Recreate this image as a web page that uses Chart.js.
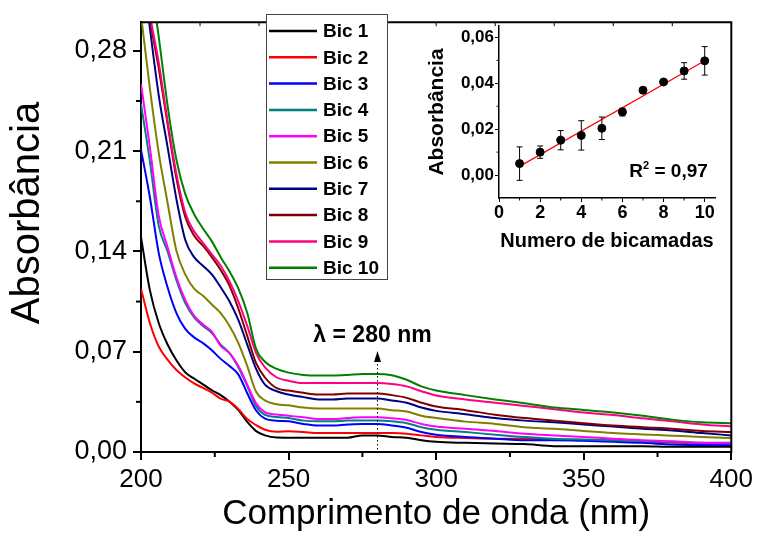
<!DOCTYPE html>
<html>
<head>
<meta charset="utf-8">
<script src="https://cdn.jsdelivr.net/npm/chart.js@4.4.1/dist/chart.umd.min.js"></script>
<style>
    html, body { margin: 0; padding: 0; background: #fff; }
    #wrap { position: relative; width: 757px; height: 538px; }
    #mainChart { position: absolute; left: 0; top: 0; }
    #insetChart { position: absolute; left: 420px; top: 14px; }
</style>
</head>
<body>
<div id="wrap">
    <canvas id="mainChart" width="757" height="538"></canvas>
    <canvas id="insetChart" width="320" height="250"></canvas>
</div>
<script>
// ========== DATA: UV-Vis spectra ==========
const wavelengths = [200, 203, 206, 209, 212, 215, 218, 221, 224, 227, 230, 233, 236, 239, 242, 246, 250,
    255, 260, 265, 270, 275, 280, 285, 290, 295, 300,
    310, 320, 330, 340, 350, 360, 370, 380, 390, 400];

const bic1 = [0.150, 0.113, 0.090, 0.075, 0.064, 0.0556, 0.0513, 0.0472, 0.0431, 0.0397, 0.0351, 0.0292, 0.021, 0.0146, 0.0116, 0.0101, 0.0100,
    0.0100, 0.0100, 0.0100, 0.0100, 0.0116, 0.0116, 0.0105, 0.0100, 0.0082, 0.0071,
    0.0064, 0.0059, 0.0055, 0.0041, 0.0041, 0.0041, 0.0041, 0.0036, 0.0036, 0.0036];
const bic2 = [0.114, 0.090, 0.0736, 0.0645, 0.0572, 0.052, 0.0479, 0.0447, 0.0415, 0.0372, 0.0351, 0.0299, 0.023, 0.0187, 0.0155, 0.0141, 0.0145,
    0.0139, 0.0132, 0.0132, 0.0132, 0.0132, 0.0132, 0.0132, 0.0128, 0.0116, 0.0105,
    0.0098, 0.0093, 0.0093, 0.0087, 0.0082, 0.0078, 0.0071, 0.0066, 0.0059, 0.0055];
const bic3 = [0.211, 0.178, 0.139, 0.115, 0.097, 0.086, 0.080, 0.076, 0.071, 0.065, 0.060, 0.054, 0.041, 0.029, 0.0233, 0.0218, 0.0214,
    0.0196, 0.0185, 0.0185, 0.0192, 0.0196, 0.0196, 0.0185, 0.0169, 0.0139, 0.0121,
    0.0105, 0.0093, 0.0082, 0.0082, 0.0078, 0.0071, 0.0064, 0.0052, 0.0048, 0.0048];
const bic4 = [0.243, 0.203, 0.158, 0.140, 0.120, 0.104, 0.094, 0.088, 0.083, 0.075, 0.069, 0.059, 0.046, 0.032, 0.026, 0.0245, 0.0237,
    0.0219, 0.0214, 0.0214, 0.0219, 0.0219, 0.0219, 0.0214, 0.0201, 0.0173, 0.0155,
    0.0139, 0.0121, 0.0105, 0.0093, 0.0087, 0.0082, 0.0075, 0.0071, 0.0064, 0.0064];
const bic5 = [0.257, 0.213, 0.165, 0.143, 0.122, 0.106, 0.095, 0.089, 0.084, 0.074, 0.069, 0.060, 0.047, 0.034, 0.0278, 0.0262, 0.0253,
    0.0242, 0.0230, 0.0230, 0.0237, 0.0242, 0.0242, 0.0235, 0.0223, 0.0196, 0.0178,
    0.0162, 0.0146, 0.0128, 0.0116, 0.0105, 0.0093, 0.0082, 0.0075, 0.0064, 0.0059];
const bic6 = [0.305, 0.254, 0.209, 0.174, 0.1404, 0.124, 0.114, 0.109, 0.103, 0.097, 0.088, 0.076, 0.060, 0.042, 0.036, 0.0333, 0.0326,
    0.0310, 0.0303, 0.0303, 0.0303, 0.0303, 0.0303, 0.0292, 0.0283, 0.0253, 0.0237,
    0.0212, 0.0196, 0.0173, 0.0162, 0.0146, 0.0132, 0.0123, 0.0114, 0.0105, 0.0098];
const bic7 = [0.345, 0.296, 0.249, 0.213, 0.1765, 0.148, 0.136, 0.130, 0.124, 0.115, 0.105, 0.092, 0.075, 0.058, 0.047, 0.0424, 0.0401,
    0.0383, 0.0367, 0.0367, 0.0374, 0.0374, 0.0374, 0.0360, 0.0344, 0.0310, 0.0287,
    0.0264, 0.0237, 0.0219, 0.0207, 0.0192, 0.0178, 0.0162, 0.0150, 0.0132, 0.0116];
const bic8 = [0.350, 0.303, 0.268, 0.229, 0.191, 0.164, 0.151, 0.144, 0.136, 0.127, 0.116, 0.100, 0.081, 0.062, 0.052, 0.0445, 0.0429,
    0.0413, 0.0401, 0.0401, 0.0408, 0.0408, 0.0408, 0.0397, 0.0378, 0.0344, 0.0317,
    0.0292, 0.0260, 0.0237, 0.0219, 0.0201, 0.0185, 0.0173, 0.0162, 0.0146, 0.0139];
const bic9 = [0.355, 0.306, 0.272, 0.231, 0.194, 0.167, 0.154, 0.146, 0.138, 0.130, 0.119, 0.105, 0.088, 0.069, 0.059, 0.052, 0.0497,
    0.0481, 0.0481, 0.0481, 0.0481, 0.0481, 0.0481, 0.0474, 0.0458, 0.0424, 0.0394,
    0.0367, 0.0344, 0.0321, 0.0299, 0.0276, 0.0258, 0.0235, 0.0214, 0.0192, 0.0178];
const bic10 = [0.400, 0.335, 0.290, 0.242, 0.204, 0.180, 0.166, 0.156, 0.147, 0.136, 0.126, 0.114, 0.097, 0.072, 0.063, 0.058, 0.0554,
    0.0538, 0.0534, 0.0534, 0.0538, 0.0545, 0.0545, 0.0536, 0.0504, 0.0458, 0.0429,
    0.0397, 0.0367, 0.0340, 0.0310, 0.0294, 0.0276, 0.0253, 0.0226, 0.0207, 0.0201];

const spectra = [bic1, bic2, bic3, bic4, bic5, bic6, bic7, bic8, bic9, bic10];
const seriesLabels = ['Bic 1', 'Bic 2', 'Bic 3', 'Bic 4', 'Bic 5', 'Bic 6', 'Bic 7', 'Bic 8', 'Bic 9', 'Bic 10'];
const seriesColors = ['#000000', '#ff0000', '#0000ff', '#008080', '#ff00ff', '#808000', '#000080', '#800000', '#ff0080', '#008000'];

const xMinorTicks = [225, 275, 325, 375];
const yMinorTicks = [0.035, 0.105, 0.175, 0.245];
const xTopTicks = [220, 240, 260, 280, 300, 320, 340, 360, 380];
const markerWavelength = 280;
const markerTip = 0.0705;

// ========== DATA: absorbance at 280 nm vs bilayers ==========
const bilayers = [1, 2, 3, 4, 5, 6, 7, 8, 9, 10];
const abs280 = [0.0050, 0.0100, 0.0152, 0.0173, 0.0204, 0.0275, 0.0370, 0.0406, 0.0454, 0.0498];
const abs280Err = [0.0073, 0.0027, 0.0042, 0.0064, 0.0049, 0.0017, 0, 0, 0.0036, 0.0062];
const insetXMinor = [1, 3, 5, 7, 9];
const insetYMinor = [0.01, 0.03, 0.05];

// ========== HELPERS ==========
const FONT = 'Arial, "Liberation Sans", sans-serif';
Chart.defaults.font.family = FONT;
Chart.defaults.color = '#000';

const fmtComma = (v) => v.toFixed(2).replace('.', ',');

// least squares line through the inset points
const linearFit = (xs, ys) => {
    const n = xs.length;
    const mx = xs.reduce((a, b) => a + b, 0) / n;
    const my = ys.reduce((a, b) => a + b, 0) / n;
    let sxy = 0, sxx = 0;
    xs.forEach((x, i) => { sxy += (x - mx) * (ys[i] - my); sxx += (x - mx) ** 2; });
    const slope = sxy / sxx;
    return { slope, intercept: my - slope * mx };
};

// ========== PLUGINS ==========
const minorTicks = {
    id: 'minorTicks',
    afterDraw(chart, args, o) {
        const { ctx, chartArea: a } = chart;
        ctx.save();
        ctx.strokeStyle = '#000';
        ctx.lineWidth = o.width;
        Object.entries(o.values).forEach(([id, values]) => {
            const sc = chart.scales[id];
            values.forEach(v => {
                const p = sc.getPixelForValue(v);
                ctx.beginPath();
                if (sc.isHorizontal()) {
                    ctx.moveTo(p, a.bottom);
                    ctx.lineTo(p, a.bottom + o.length);
                } else {
                    ctx.moveTo(a.left, p);
                    ctx.lineTo(a.left - o.length, p);
                }
                ctx.stroke();
            });
        });
        ctx.restore();
    }
};

// closes the box on top and right, with small inward ticks on top
const frame = {
    id: 'frame',
    afterDraw(chart, args, o) {
        const { ctx, chartArea: a, scales } = chart;
        ctx.save();
        ctx.strokeStyle = '#000';
        ctx.lineWidth = 2;
        ctx.beginPath();
        ctx.moveTo(a.left - 1, a.top);
        ctx.lineTo(a.right, a.top);
        ctx.lineTo(a.right, a.bottom + 1);
        ctx.stroke();
        ctx.lineWidth = 1;
        o.topTicks.forEach(v => {
            const p = scales.x.getPixelForValue(v);
            ctx.beginPath();
            ctx.moveTo(p, a.top);
            ctx.lineTo(p, a.top + 4);
            ctx.stroke();
        });
        ctx.restore();
    }
};

// vertical axis title, sits a little above the middle of the axis
const yTitle = {
    id: 'yTitle',
    afterDraw(chart, args, o) {
        const { ctx } = chart;
        ctx.save();
        ctx.translate(o.x, o.y);
        ctx.rotate(-Math.PI / 2);
        ctx.font = o.size + 'px ' + FONT;
        ctx.fillStyle = '#000';
        ctx.textAlign = 'center';
        ctx.textBaseline = 'middle';
        ctx.fillText(o.text, 0, 0);
        ctx.restore();
    }
};

const marker = {
    id: 'marker',
    afterDatasetsDraw(chart, args, o) {
        const { ctx, scales: { x, y } } = chart;
        const px = Math.round(x.getPixelForValue(o.value)) + 0.5;
        const tip = y.getPixelForValue(o.tip);
        ctx.save();
        ctx.strokeStyle = '#000';
        ctx.lineWidth = 1;
        ctx.setLineDash([1.5, 2.5]);
        ctx.beginPath();
        ctx.moveTo(px, tip + 9);
        ctx.lineTo(px, y.getPixelForValue(0));
        ctx.stroke();
        ctx.setLineDash([]);
        ctx.fillStyle = '#000';
        ctx.beginPath();
        ctx.moveTo(px, tip);
        ctx.lineTo(px - 3.5, tip + 11);
        ctx.lineTo(px + 3.5, tip + 11);
        ctx.closePath();
        ctx.fill();
        ctx.font = 'bold 23px ' + FONT;
        ctx.textAlign = 'center';
        ctx.textBaseline = 'middle';
        ctx.fillText(o.text, px - 5, tip - 15);
        ctx.restore();
    }
};

const legendBox = {
    id: 'legendBox',
    afterDraw(chart, args, o) {
        const { ctx } = chart;
        ctx.save();
        ctx.fillStyle = '#fff';
        ctx.fillRect(o.left, o.top, o.width, o.height);
        ctx.strokeStyle = '#444';
        ctx.lineWidth = 1;
        ctx.strokeRect(o.left + 0.5, o.top + 0.5, o.width, o.height);
        ctx.font = 'bold 19px ' + FONT;
        ctx.textBaseline = 'middle';
        chart.data.datasets.forEach((ds, i) => {
            const yy = o.top + o.firstRow + i * o.rowGap;
            ctx.strokeStyle = ds.borderColor;
            ctx.lineWidth = 2.5;
            ctx.beginPath();
            ctx.moveTo(o.left + 3, yy);
            ctx.lineTo(o.left + 51, yy);
            ctx.stroke();
            ctx.fillStyle = '#000';
            ctx.fillText(ds.label, o.left + 57, yy + 1);
        });
        ctx.restore();
    }
};

const errorBars = {
    id: 'errorBars',
    afterDatasetsDraw(chart, args, o) {
        const { ctx, scales: { x, y } } = chart;
        ctx.save();
        ctx.strokeStyle = '#000';
        ctx.lineWidth = 1;
        bilayers.forEach((n, i) => {
            if (!abs280Err[i]) return;
            const px = x.getPixelForValue(n);
            const top = y.getPixelForValue(abs280[i] + abs280Err[i]);
            const bot = y.getPixelForValue(abs280[i] - abs280Err[i]);
            ctx.beginPath();
            ctx.moveTo(px, top); ctx.lineTo(px, bot);
            ctx.moveTo(px - 3, top); ctx.lineTo(px + 3, top);
            ctx.moveTo(px - 3, bot); ctx.lineTo(px + 3, bot);
            ctx.stroke();
        });
        ctx.restore();
    }
};

const r2Label = {
    id: 'r2Label',
    afterDraw(chart, args, o) {
        const { ctx, scales: { x, y } } = chart;
        const right = x.getPixelForValue(o.x);
        const base = y.getPixelForValue(o.y);
        ctx.save();
        ctx.fillStyle = '#000';
        ctx.textBaseline = 'alphabetic';
        ctx.font = 'bold 19px ' + FONT;
        const tail = ' = 0,97';
        const wTail = ctx.measureText(tail).width;
        const wR = ctx.measureText('R').width;
        ctx.font = 'bold 11px ' + FONT;
        const w2 = ctx.measureText('2').width;
        const left = right - wTail - w2 - wR;
        ctx.font = 'bold 19px ' + FONT;
        ctx.fillText('R', left, base);
        ctx.fillText(tail, left + wR + w2, base);
        ctx.font = 'bold 11px ' + FONT;
        ctx.fillText('2', left + wR, base - 8);
        ctx.restore();
    }
};

// ========== MAIN CHART ==========
new Chart(document.getElementById('mainChart'), {
    type: 'line',
    data: {
        datasets: spectra.map((s, i) => ({
            label: seriesLabels[i],
            data: wavelengths.map((w, j) => ({ x: w, y: s[j] })),
            borderColor: seriesColors[i],
            borderWidth: 2,
            pointRadius: 0,
            cubicInterpolationMode: 'monotone',
            fill: false,
            order: 10 - i
        }))
    },
    options: {
        responsive: false,
        animation: false,
        layout: { padding: { top: 14, right: 20, left: 0, bottom: 0 } },
        plugins: {
            legend: { display: false },
            tooltip: { enabled: false },
            minorTicks: { values: { x: xMinorTicks, y: yMinorTicks }, length: 5, width: 2 },
            frame: { topTicks: xTopTicks },
            yTitle: { text: 'Absorbância', x: 28, y: 213, size: 40 },
            marker: { value: markerWavelength, tip: markerTip, text: 'λ = 280 nm' },
            legendBox: { left: 266, top: 14, width: 121, height: 265, firstRow: 17, rowGap: 26.3 }
        },
        scales: {
            x: {
                type: 'linear',
                min: 200,
                max: 400,
                border: { color: '#000', width: 2 },
                grid: { drawOnChartArea: false, tickLength: 8, color: '#000', lineWidth: 2 },
                ticks: { stepSize: 50, includeBounds: false, padding: 4, maxRotation: 0, font: { size: 26 } },
                title: { display: true, text: 'Comprimento de onda (nm)', font: { size: 35 }, padding: { top: 0, bottom: 3 } },
                afterFit: (s) => { s.height = 86; }
            },
            y: {
                min: 0,
                max: 0.30,
                border: { color: '#000', width: 2 },
                grid: { drawOnChartArea: false, tickLength: 8, color: '#000', lineWidth: 2 },
                ticks: { stepSize: 0.07, includeBounds: false, padding: 6, font: { size: 27 }, callback: fmtComma },
                afterFit: (s) => { s.width = 141; }
            }
        }
    },
    plugins: [minorTicks, frame, yTitle, marker, legendBox]
});

// ========== INSET CHART ==========
const fit = linearFit(bilayers, abs280);
const fitEnds = [bilayers[0], bilayers[bilayers.length - 1]];

new Chart(document.getElementById('insetChart'), {
    type: 'scatter',
    data: {
        datasets: [
            {
                data: bilayers.map((n, i) => ({ x: n, y: abs280[i] })),
                backgroundColor: '#000',
                borderColor: '#000',
                pointRadius: 4
            },
            {
                type: 'line',
                data: fitEnds.map(n => ({ x: n, y: fit.intercept + fit.slope * n })),
                borderColor: '#ff0000',
                borderWidth: 1.2,
                pointRadius: 0
            }
        ]
    },
    options: {
        responsive: false,
        animation: false,
        layout: { padding: { top: 12, right: 25, left: 0, bottom: 0 } },
        plugins: {
            legend: { display: false },
            tooltip: { enabled: false },
            minorTicks: { values: { x: insetXMinor, y: insetYMinor }, length: 2.5, width: 1 },
            r2Label: { x: 10.15, y: -0.0007 }
        },
        scales: {
            x: {
                type: 'linear',
                min: 0,
                max: 10.5,
                border: { color: '#000', width: 1.5 },
                grid: { drawOnChartArea: false, tickLength: 4, color: '#000', lineWidth: 1 },
                ticks: { stepSize: 2, includeBounds: false, padding: 0, maxRotation: 0, font: { size: 18, weight: 'bold' } },
                title: { display: true, text: 'Numero de bicamadas', font: { size: 20, weight: 'bold' }, padding: { top: 0, bottom: 11 } },
                afterFit: (s) => { s.height = 66; }
            },
            y: {
                min: -0.01,
                max: 0.065,
                border: { color: '#000', width: 1.5 },
                grid: { drawOnChartArea: false, tickLength: 4, color: '#000', lineWidth: 1 },
                ticks: { stepSize: 0.02, includeBounds: false, padding: 1, font: { size: 17, weight: 'bold' }, callback: fmtComma },
                title: { display: true, text: 'Absorbância', font: { size: 21, weight: 'bold' }, padding: { top: 5, bottom: 0 } },
                afterFit: (s) => { s.width = 79; }
            }
        }
    },
    plugins: [minorTicks, errorBars, r2Label]
});
</script>
</body>
</html>
